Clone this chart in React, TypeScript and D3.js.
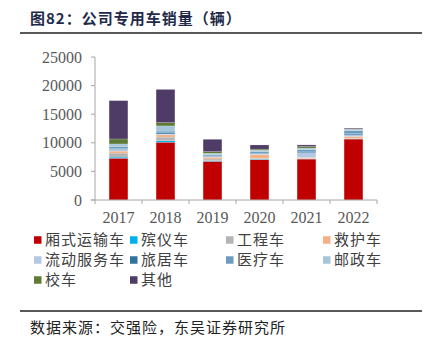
import React from "react";
import * as d3 from "d3";

const years = ["2017", "2018", "2019", "2020", "2021", "2022"];
const seriesNames = ["厢式运输车", "殡仪车", "工程车", "救护车", "流动服务车", "旅居车", "医疗车", "邮政车", "校车", "其他"];
const seriesColors = ["#C00000", "#00B0F0", "#B4B4B4", "#F4B183", "#B4C7E7", "#31739C", "#6A9CC0", "#A5C5D9", "#5F7A33", "#4E3C66"];
const boxTruck = [7300, 10100, 6750, 7050, 7150, 10650];
const funeral = [200, 250, 120, 100, 60, 50];
const engineering = [700, 650, 300, 150, 50, 50];
const ambulance = [350, 400, 300, 650, 200, 350];
const mobileService = [300, 150, 150, 150, 800, 300];
const rv = [150, 200, 100, 100, 150, 200];
const medical = [350, 300, 250, 300, 420, 550];
const postal = [450, 900, 200, 200, 250, 200];
const schoolBus = [870, 580, 290, 200, 270, 50];
const others = [6700, 5800, 2150, 720, 280, 150];
const yTicks = [0, 5000, 10000, 15000, 20000, 25000];

const seriesValues = [boxTruck, funeral, engineering, ambulance, mobileService, rv, medical, postal, schoolBus, others];

export default function App() {
  const W = 427, H = 348;
  const x = d3.scaleBand<string>().domain(years).range([95, 377]).paddingInner(0.6).paddingOuter(0.3);
  const y = d3.scaleLinear().domain([0, 25000]).range([200, 57]);
  const table = years.map((yr, i) => {
    const row: any = { year: yr };
    seriesNames.forEach((n, k) => (row[n] = seriesValues[k][i]));
    return row;
  });
  const stacked = d3.stack<any>().keys(seriesNames)(table);
  const serif = "'Liberation Serif', 'DejaVu Serif', serif";
  const cjk = "'Noto Sans CJK SC', sans-serif";
  const legendCols = [34, 130, 226, 323];
  const legendRows = [240, 260, 280];
  return (
    <svg width={W} height={H} style={{ position: "absolute", left: 0, top: 0, background: "#fff" }}>
      <text x={30} y={24} fontFamily={cjk} fontWeight="bold" fontSize={15} fill="#1F2A4A" letterSpacing={1}>
        图82：公司专用车销量（辆）
      </text>
      <line x1={20} x2={422} y1={33} y2={33} stroke="#222" strokeWidth={1.5} />
      {stacked.map((s, k) => (
        <g key={k} fill={seriesColors[k]}>
          {s.map((d, i) => (
            <rect
              key={i}
              x={x(years[i])}
              width={x.bandwidth()}
              y={y(d[1])}
              height={Math.max(0, y(d[0]) - y(d[1]))}
              stroke="#ffffff"
              strokeOpacity={0.35}
              strokeWidth={0.5}
            />
          ))}
        </g>
      ))}
      <line x1={95} x2={95} y1={57} y2={200} stroke="#A6A6A6" />
      {yTicks.map((t) => (
        <g key={t}>
          <line x1={91} x2={95} y1={y(t)} y2={y(t)} stroke="#A6A6A6" />
          <text x={82} y={y(t)} dy="0.35em" textAnchor="end" fontFamily={serif} fontSize={16} fill="#595959">
            {t}
          </text>
        </g>
      ))}
      <line x1={91} x2={377} y1={200} y2={200} stroke="#A6A6A6" />
      {years.map((yr, i) => {
        const x0 = x(yr)! - (x.step() - x.bandwidth()) / 2;
        return <line key={i} x1={x0} x2={x0} y1={200} y2={204} stroke="#A6A6A6" />;
      })}
      <line x1={377} x2={377} y1={200} y2={204} stroke="#A6A6A6" />
      {years.map((yr) => (
        <text key={yr} x={x(yr)! + x.bandwidth() / 2} y={223} textAnchor="middle" fontFamily={serif} fontSize={16} fill="#595959">
          {yr}
        </text>
      ))}
      {seriesNames.map((n, k) => {
        const cx = legendCols[k % 4];
        const cy = legendRows[Math.floor(k / 4)];
        return (
          <g key={n}>
            <rect x={cx} y={cy - 3.75} width={7.5} height={7.5} fill={seriesColors[k]} />
            <text x={cx + 11} y={cy} dy="0.36em" fontFamily={cjk} fontSize={15} fill="#404040" letterSpacing={1}>
              {n}
            </text>
          </g>
        );
      })}
      <line x1={20} x2={422} y1={311} y2={311} stroke="#222" strokeWidth={1.5} />
      <text x={30} y={333} fontFamily={cjk} fontSize={15} fill="#222" letterSpacing={1}>
        数据来源：交强险，东吴证券研究所
      </text>
    </svg>
  );
}
